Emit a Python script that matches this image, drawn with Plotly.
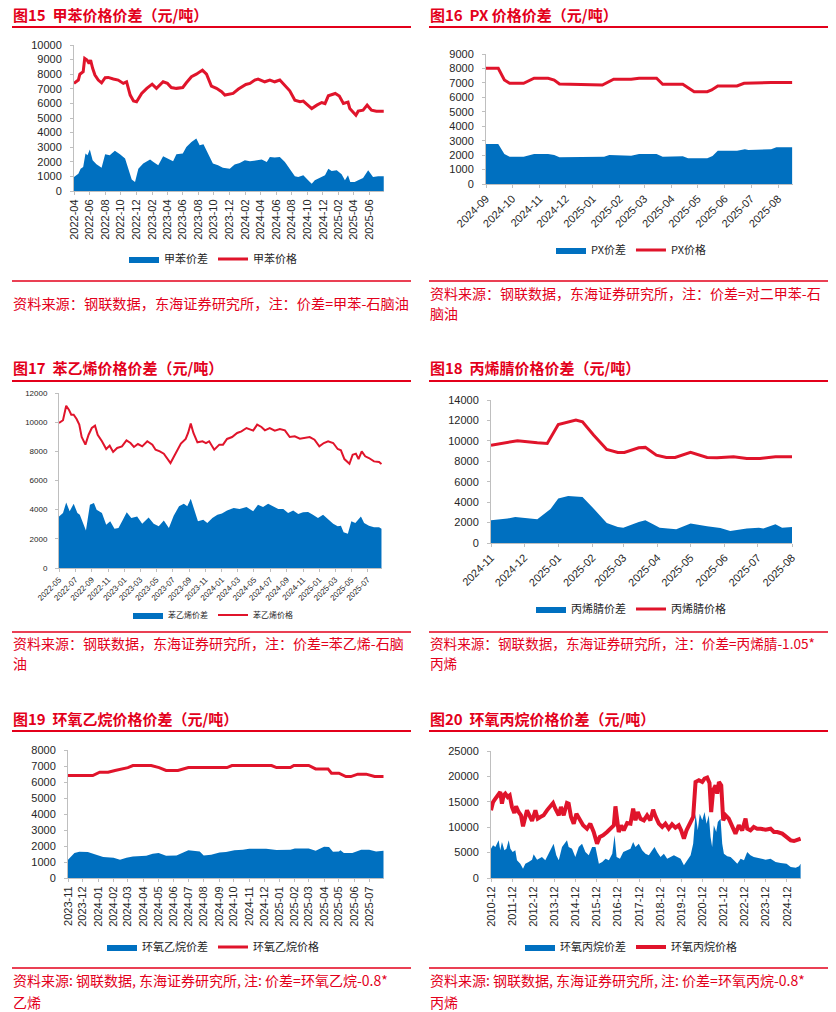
import plotly.graph_objects as go

W, H = 836, 1012
BLUE = "#0070C0"
RED = "#E0142B"
TXT_RED = "#E3001B"
AXIS = "#BFBFBF"
TICK_TXT = "#262626"
FONT = "Liberation Sans, Arial, Noto Sans CJK SC, sans-serif"
CJK = "Noto Sans CJK SC, Liberation Sans, sans-serif"

# ---------------- 图15 甲苯 ----------------
tol_spread_dates = ["2022-04-01", "2022-04-18", "2022-04-27", "2022-05-07", "2022-05-16", "2022-05-24",
                    "2022-06-02", "2022-06-13", "2022-06-28", "2022-07-18", "2022-08-01", "2022-08-19",
                    "2022-09-08", "2022-09-28", "2022-10-18", "2022-10-31", "2022-11-13", "2022-11-26",
                    "2022-12-09", "2022-12-28", "2023-01-24", "2023-02-06", "2023-02-25", "2023-03-16",
                    "2023-04-05", "2023-04-24", "2023-05-07", "2023-06-01", "2023-06-15", "2023-07-05",
                    "2023-07-24", "2023-08-06", "2023-08-21", "2023-09-07", "2023-09-27", "2023-10-17",
                    "2023-11-05", "2023-12-02", "2023-12-21", "2024-01-10", "2024-01-30", "2024-02-19",
                    "2024-03-16", "2024-04-05", "2024-04-25", "2024-05-07", "2024-05-26", "2024-06-15",
                    "2024-07-05", "2024-07-24", "2024-08-13", "2024-08-26", "2024-09-15", "2024-10-04",
                    "2024-10-18", "2024-10-30", "2024-11-19", "2024-12-09", "2024-12-22", "2025-01-04",
                    "2025-01-24", "2025-02-12", "2025-02-25", "2025-03-09", "2025-03-18", "2025-04-04",
                    "2025-04-18", "2025-05-07", "2025-05-27", "2025-06-15", "2025-07-05", "2025-07-27"]
tol_spread = [960, 1190, 1530, 1650, 2560, 2450, 2840, 2100, 1830, 1600, 2520, 2450,
              2750, 2520, 2220, 1420, 780, 620, 1530, 1880, 2150, 1990, 1760, 2380,
              2220, 2040, 2520, 2560, 3020, 3360, 3590, 3140, 3200, 2560, 1880, 1760,
              1600, 1530, 1810, 1920, 2100, 2040, 2100, 2150, 1990, 2330, 2290, 2330,
              1990, 1530, 1010, 960, 1080, 730, 500, 730, 920, 1080, 1530, 1370,
              1420, 1140, 730, 1080, 620, 620, 730, 890, 1420, 960, 1010, 1010]
tol_price_dates = ["2022-04-01", "2022-04-18", "2022-04-24", "2022-05-07", "2022-05-13", "2022-05-22",
                   "2022-05-30", "2022-06-05", "2022-06-13", "2022-06-22", "2022-07-05", "2022-07-18",
                   "2022-08-01", "2022-08-13", "2022-09-02", "2022-09-21", "2022-10-11", "2022-10-24",
                   "2022-11-07", "2022-11-20", "2022-12-02", "2022-12-22", "2023-01-11", "2023-02-01",
                   "2023-02-18", "2023-03-16", "2023-04-02", "2023-04-17", "2023-05-07", "2023-06-01",
                   "2023-06-15", "2023-07-05", "2023-07-24", "2023-08-17", "2023-09-02", "2023-09-21",
                   "2023-10-11", "2023-10-31", "2023-11-13", "2023-12-01", "2023-12-15", "2024-01-05",
                   "2024-02-03", "2024-02-19", "2024-03-09", "2024-03-22", "2024-04-17", "2024-05-07",
                   "2024-05-26", "2024-06-15", "2024-07-05", "2024-07-24", "2024-08-13", "2024-09-02",
                   "2024-09-15", "2024-10-02", "2024-10-18", "2024-11-07", "2024-11-26", "2024-12-09",
                   "2024-12-22", "2025-01-18", "2025-02-03", "2025-02-19", "2025-03-09", "2025-03-16",
                   "2025-03-29", "2025-04-09", "2025-04-18", "2025-05-07", "2025-05-23", "2025-06-09",
                   "2025-06-28", "2025-07-27"]
tol_price = [7370, 7600, 8000, 8170, 9080, 8970, 8740, 8970, 8400, 7940, 7600, 7410,
             7760, 7780, 7670, 7600, 7370, 7480, 6570, 6160, 6110, 6680, 7030, 7320,
             7030, 7480, 7370, 7090, 7030, 7090, 7410, 7830, 8000, 8280, 8000, 7190,
             7030, 6800, 6570, 6610, 6680, 6980, 7300, 7370, 7600, 7670, 7480, 7600,
             7480, 7600, 7250, 6860, 6220, 6110, 6160, 5880, 5650, 5880, 6060, 5990,
             6520, 6680, 6500, 5990, 6090, 5650, 5420, 5190, 5470, 5540, 5880, 5540,
             5470, 5470]

# ---------------- 图16 PX ----------------
px_spread_dates = ["2024-09-01", "2024-09-15", "2024-09-22", "2024-09-28", "2024-10-14", "2024-10-26",
                   "2024-11-11", "2024-11-18", "2024-11-24", "2024-12-15", "2024-12-30", "2025-01-14",
                   "2025-01-20", "2025-02-14", "2025-02-23", "2025-03-15", "2025-03-22", "2025-04-14",
                   "2025-04-20", "2025-05-12", "2025-05-18", "2025-05-24", "2025-06-15", "2025-06-24",
                   "2025-06-28", "2025-07-24", "2025-07-30", "2025-08-17"]
px_spread = [2770, 2770, 2080, 1890, 1890, 2080, 2080, 2010, 1850, 1850, 1890, 1890,
             2010, 1960, 2080, 2080, 1890, 1920, 1780, 1780, 1940, 2310, 2310, 2400,
             2350, 2400, 2540, 2540]
px_price_dates = ["2024-09-01", "2024-09-15", "2024-09-22", "2024-09-28", "2024-10-14", "2024-10-26",
                  "2024-11-11", "2024-11-18", "2024-11-24", "2024-12-15", "2024-12-30", "2025-01-12",
                  "2025-01-25", "2025-02-14", "2025-02-23", "2025-03-15", "2025-03-22", "2025-04-14",
                  "2025-04-27", "2025-05-12", "2025-05-17", "2025-05-24", "2025-06-15", "2025-06-23",
                  "2025-07-24", "2025-08-17"]
px_price = [8010, 8010, 7200, 6970, 6970, 7320, 7320, 7200, 6920, 6900, 6850, 6850,
            7250, 7250, 7320, 7320, 6900, 6900, 6390, 6390, 6510, 6790, 6790, 6970,
            7020, 7020]

# ---------------- 图17 苯乙烯 ----------------
sty_spread_dates = ["2022-05-01", "2022-05-16", "2022-05-28", "2022-06-10", "2022-06-25", "2022-07-09",
                    "2022-07-18", "2022-07-30", "2022-08-10", "2022-08-25", "2022-09-09", "2022-09-19",
                    "2022-10-09", "2022-10-25", "2022-11-09", "2022-11-25", "2022-12-10", "2022-12-26",
                    "2023-01-10", "2023-01-27", "2023-02-18", "2023-03-09", "2023-04-02", "2023-04-21",
                    "2023-05-10", "2023-05-29", "2023-06-17", "2023-07-05", "2023-07-25", "2023-08-12",
                    "2023-08-25", "2023-09-07", "2023-09-19", "2023-10-04", "2023-10-24", "2023-11-08",
                    "2023-11-27", "2023-12-16", "2024-01-02", "2024-01-21", "2024-02-15", "2024-03-08",
                    "2024-04-03", "2024-04-28", "2024-05-16", "2024-06-04", "2024-06-23", "2024-07-12",
                    "2024-07-31", "2024-08-19", "2024-09-06", "2024-09-25", "2024-10-14", "2024-11-01",
                    "2024-11-20", "2024-12-08", "2024-12-27", "2025-01-15", "2025-02-03", "2025-02-22",
                    "2025-03-11", "2025-03-23", "2025-04-02", "2025-04-18", "2025-05-01", "2025-05-16",
                    "2025-06-06", "2025-06-18", "2025-07-06", "2025-07-25", "2025-08-13", "2025-08-22"]
sty_spread = [3540, 3770, 4500, 3890, 4410, 3770, 3660, 3090, 2580, 4340, 4460, 4000,
              3770, 2970, 3200, 2700, 2740, 3300, 3820, 3430, 3540, 3040, 3470, 3040,
              2860, 3250, 2740, 3590, 4230, 4410, 4230, 4750, 4110, 3200, 3310, 3090,
              3430, 3660, 3730, 3950, 4110, 4050, 4180, 3890, 4340, 4180, 4410, 4230,
              4050, 4050, 3770, 3950, 3700, 3820, 3840, 3660, 3430, 3660, 3360, 3040,
              2860, 2900, 2450, 2350, 3200, 3090, 3540, 3090, 2900, 2790, 2790, 2700]
sty_price_dates = ["2022-05-01", "2022-05-16", "2022-05-28", "2022-06-07", "2022-06-16", "2022-06-25",
                   "2022-07-06", "2022-07-16", "2022-07-25", "2022-08-08", "2022-08-20", "2022-09-01",
                   "2022-09-13", "2022-09-23", "2022-10-09", "2022-10-25", "2022-11-07", "2022-11-20",
                   "2022-12-05", "2022-12-23", "2023-01-09", "2023-01-24", "2023-02-06", "2023-02-21",
                   "2023-03-09", "2023-03-28", "2023-04-16", "2023-04-28", "2023-05-14", "2023-05-29",
                   "2023-06-23", "2023-07-13", "2023-08-01", "2023-08-19", "2023-08-28", "2023-09-07",
                   "2023-09-17", "2023-10-02", "2023-10-21", "2023-11-03", "2023-11-15", "2023-12-04",
                   "2023-12-23", "2024-01-06", "2024-01-21", "2024-02-09", "2024-02-28", "2024-03-15",
                   "2024-04-03", "2024-04-28", "2024-05-13", "2024-05-29", "2024-06-11", "2024-06-29",
                   "2024-07-18", "2024-08-06", "2024-08-25", "2024-09-12", "2024-10-01", "2024-10-20",
                   "2024-11-07", "2024-11-26", "2024-12-14", "2025-01-01", "2025-01-18", "2025-02-03",
                   "2025-02-22", "2025-03-11", "2025-03-23", "2025-04-05", "2025-04-24", "2025-05-06",
                   "2025-05-18", "2025-05-28", "2025-06-09", "2025-06-22", "2025-07-06", "2025-07-25",
                   "2025-08-13", "2025-08-22"]
sty_price = [9940, 10130, 11130, 10860, 10510, 10510, 10220, 9830, 8980, 8460,
             9140, 9600, 9760, 9140, 8690, 8160, 8390, 7960, 8230, 8340,
             8750, 8570, 8300, 8500, 8340, 8690, 8460, 8110, 8000, 7840,
             7200, 7890, 8530, 8850, 9260, 9900, 9260, 8620, 8690, 8570,
             8690, 8110, 8460, 8460, 8850, 8980, 9260, 9370, 9600, 9420,
             9830, 9670, 9440, 9600, 9420, 9530, 9440, 8980, 9030, 8870,
             8910, 8980, 8800, 8340, 8570, 8690, 8570, 8160, 8070, 7470,
             7150, 7770, 7840, 7470, 8000, 7660, 7540, 7310, 7270, 7130]

# ---------------- 图18 丙烯腈 ----------------
acn_spread_dates = ["2024-11-01", "2024-11-16", "2024-11-23", "2024-12-01", "2024-12-13", "2024-12-25",
                    "2025-01-01", "2025-01-10", "2025-01-23", "2025-02-02", "2025-02-14", "2025-02-24",
                    "2025-03-01", "2025-03-15", "2025-03-21", "2025-03-28", "2025-04-03", "2025-04-18",
                    "2025-05-01", "2025-05-16", "2025-05-28", "2025-06-06", "2025-06-21", "2025-07-02",
                    "2025-07-06", "2025-07-17", "2025-07-23", "2025-08-01"]
acn_spread = [2220, 2390, 2550, 2450, 2320, 3340, 4350, 4610, 4510, 3370, 1960, 1570,
              1500, 2060, 2220, 1830, 1500, 1340, 1900, 1640, 1470, 1180, 1410, 1500,
              1410, 1830, 1500, 1570]
acn_price_dates = ["2024-11-01", "2024-11-22", "2024-11-25", "2024-12-13", "2024-12-22", "2025-01-01",
                   "2025-01-11", "2025-01-17", "2025-01-23", "2025-02-02", "2025-02-14", "2025-02-24",
                   "2025-03-02", "2025-03-15", "2025-03-21", "2025-03-31", "2025-04-09", "2025-04-17",
                   "2025-05-01", "2025-05-16", "2025-05-25", "2025-06-09", "2025-06-21", "2025-07-03",
                   "2025-07-17", "2025-08-01"]
acn_price = [9580, 9910, 10010, 9810, 9750, 11600, 11870, 12040, 11870, 10570, 9160, 8870,
             8870, 9320, 9360, 8600, 8370, 8370, 8870, 8370, 8340, 8440, 8280, 8280,
             8440, 8440]

# ---------------- 图19 环氧乙烷 ----------------
eo_spread_dates = ["2023-11-01", "2023-11-14", "2023-11-24", "2023-12-11", "2023-12-28", "2024-01-11",
                   "2024-02-01", "2024-02-14", "2024-02-27", "2024-03-11", "2024-04-07", "2024-04-20",
                   "2024-05-02", "2024-05-17", "2024-06-07", "2024-07-01", "2024-07-24", "2024-08-01",
                   "2024-08-16", "2024-09-02", "2024-09-15", "2024-10-02", "2024-10-19", "2024-11-01",
                   "2024-12-05", "2024-12-26", "2025-01-23", "2025-02-01", "2025-03-01", "2025-03-15",
                   "2025-04-01", "2025-04-11", "2025-04-19", "2025-05-01", "2025-05-04", "2025-05-11",
                   "2025-05-28", "2025-06-15", "2025-07-01", "2025-07-15", "2025-07-30"]
eo_spread = [1140, 1560, 1640, 1620, 1460, 1310, 1270, 1140, 1270, 1350, 1390, 1520,
             1560, 1390, 1410, 1730, 1660, 1410, 1460, 1600, 1620, 1730, 1770, 1830,
             1830, 1750, 1770, 1850, 1850, 1700, 1950, 1930, 1640, 1660, 1730, 1560,
             1560, 1770, 1770, 1660, 1700]
eo_price_dates = ["2023-11-01", "2023-12-21", "2024-01-04", "2024-01-21", "2024-02-04", "2024-02-17",
                  "2024-03-01", "2024-03-11", "2024-04-17", "2024-05-03", "2024-05-17", "2024-06-10",
                  "2024-07-01", "2024-09-17", "2024-09-27", "2024-12-16", "2024-12-26", "2025-01-23",
                  "2025-01-30", "2025-03-01", "2025-03-15", "2025-04-09", "2025-04-16", "2025-05-01",
                  "2025-05-15", "2025-05-25", "2025-06-08", "2025-06-25", "2025-07-12", "2025-07-30"]
eo_price = [6400, 6400, 6610, 6610, 6720, 6820, 6900, 7030, 7030, 6900, 6720, 6720,
            6900, 6900, 7030, 7030, 6900, 6900, 7030, 7030, 6820, 6820, 6550, 6550,
            6340, 6340, 6490, 6490, 6340, 6340]

# ---------------- 图20 环氧丙烷 ----------------
po_spread_dates = ["2010-12-01", "2011-01-05", "2011-02-15", "2011-03-15", "2011-04-12", "2011-05-10",
                   "2011-06-08", "2011-07-20", "2011-08-24", "2011-10-03", "2011-11-01", "2011-12-10",
                   "2012-01-25", "2012-02-23", "2012-04-20", "2012-06-06", "2012-07-16", "2012-09-11",
                   "2012-11-09", "2012-12-07", "2013-02-04", "2013-04-29", "2013-06-26", "2013-08-22",
                   "2013-10-19", "2013-11-17", "2014-01-02", "2014-02-14", "2014-04-11", "2014-07-06",
                   "2014-08-04", "2014-10-01", "2014-11-27", "2015-01-25", "2015-03-23", "2015-05-20",
                   "2015-07-17", "2015-09-13", "2015-11-10", "2016-01-08", "2016-03-05", "2016-05-02",
                   "2016-06-29", "2016-08-26", "2016-10-05", "2016-11-09", "2017-01-06", "2017-03-04",
                   "2017-05-10", "2017-07-07", "2017-08-22", "2017-10-01", "2017-11-28", "2018-01-25",
                   "2018-03-23", "2018-05-20", "2018-07-17", "2018-08-26", "2018-10-11", "2018-12-08",
                   "2019-02-04", "2019-04-02", "2019-05-30", "2019-07-27", "2019-09-23", "2019-11-20",
                   "2020-01-16", "2020-03-14", "2020-05-11", "2020-06-24", "2020-08-04", "2020-09-12",
                   "2020-10-16", "2020-11-28", "2021-01-07", "2021-02-10", "2021-03-21", "2021-04-20",
                   "2021-05-18", "2021-06-16", "2021-07-27", "2021-08-24", "2021-10-10", "2021-11-08",
                   "2021-12-07", "2022-02-03", "2022-04-01", "2022-05-29", "2022-07-26", "2022-09-22",
                   "2022-11-19", "2023-01-14", "2023-03-11", "2023-05-07", "2023-07-04", "2023-09-01",
                   "2023-11-27", "2024-02-21", "2024-05-18", "2024-08-13", "2024-11-24", "2025-02-03",
                   "2025-05-01", "2025-06-27", "2025-07-24"]
po_spread = [5770, 6430, 6100, 6760, 7410, 5450, 7090, 5450, 5770, 7410, 5770, 5120,
             5450, 3480, 2820, 1840, 2820, 3150, 3610, 4660, 3610, 4130, 3480, 4790,
             6100, 6760, 4460, 3480, 6100, 7410, 6100, 5770, 4130, 6100, 6760, 5120,
             4460, 6100, 6100, 2820, 3150, 3810, 3480, 4790, 8400, 4130, 3810, 5120,
             5450, 5770, 7090, 6100, 6760, 5450, 4790, 4460, 5450, 6100, 5120, 4130,
             4790, 3810, 4130, 4460, 4130, 3810, 2490, 3480, 4460, 6760, 12660, 9380,
             12660, 11350, 12990, 10700, 12340, 8070, 6100, 10370, 9060, 11020, 11680, 6760,
             4790, 4270, 4130, 3480, 2820, 3810, 3480, 5120, 4460, 4130, 4000, 3810,
             3610, 3810, 3150, 2950, 2820, 2170, 2030, 2300, 2820]
po_price_dates = ["2010-12-01", "2011-01-05", "2011-02-15", "2011-04-12", "2011-05-10", "2011-06-08",
                  "2011-07-07", "2011-08-05", "2011-09-15", "2011-10-20", "2011-11-28", "2012-01-08",
                  "2012-02-07", "2012-03-22", "2012-05-02", "2012-06-06", "2012-07-16", "2012-08-14",
                  "2012-09-24", "2012-11-09", "2013-01-06", "2013-02-15", "2013-04-01", "2013-05-28",
                  "2013-07-25", "2013-09-22", "2013-11-07", "2013-12-17", "2014-02-14", "2014-03-24",
                  "2014-05-10", "2014-07-06", "2014-08-04", "2014-09-14", "2014-10-30", "2014-12-16",
                  "2015-02-12", "2015-04-10", "2015-06-16", "2015-08-13", "2015-10-10", "2015-12-07",
                  "2016-01-23", "2016-03-20", "2016-05-28", "2016-07-25", "2016-09-22", "2016-10-20",
                  "2016-11-19", "2016-12-16", "2017-01-27", "2017-03-13", "2017-05-10", "2017-07-07",
                  "2017-08-22", "2017-10-01", "2017-11-10", "2017-12-27", "2018-02-23", "2018-04-20",
                  "2018-06-16", "2018-08-02", "2018-09-12", "2018-11-09", "2019-01-06", "2019-03-02",
                  "2019-04-29", "2019-06-25", "2019-08-22", "2019-10-19", "2019-11-29", "2020-01-16",
                  "2020-03-01", "2020-04-27", "2020-06-24", "2020-08-04", "2020-10-01", "2020-11-28",
                  "2021-01-07", "2021-02-21", "2021-04-02", "2021-05-01", "2021-06-04", "2021-07-16",
                  "2021-08-13", "2021-09-12", "2021-10-22", "2021-11-25", "2022-01-04", "2022-03-01",
                  "2022-04-28", "2022-06-25", "2022-08-22", "2022-10-19", "2022-12-16", "2023-01-14",
                  "2023-03-11", "2023-05-07", "2023-07-04", "2023-09-01", "2023-11-27", "2024-02-21",
                  "2024-04-19", "2024-06-16", "2024-09-10", "2024-11-24", "2025-02-03", "2025-04-01",
                  "2025-05-28", "2025-07-24"]
po_price = [13320, 14960, 15620, 16400, 16930, 14630, 16270, 16600, 15940, 16270, 13980, 12800,
            14110, 12990, 12340, 10170, 11680, 13320, 12340, 11220, 13320, 11680, 12010, 12340,
            13320, 14110, 14760, 13650, 12340, 13980, 12340, 14760, 14630, 12010, 10700, 12660,
            11350, 10370, 9710, 10700, 9060, 6760, 8070, 8400, 9060, 9710, 10370, 14110,
            11350, 9060, 10370, 9380, 10830, 10700, 13650, 11350, 12990, 11680, 11350, 12340,
            11350, 13450, 12140, 10700, 10040, 10700, 9710, 10560, 9910, 10370, 9380, 7740,
            9380, 10700, 12010, 18900, 19230, 18900, 19550, 19750, 18700, 12990, 17260, 18240,
            16600, 18900, 18240, 11350, 12340, 11680, 10040, 8730, 10370, 9380, 11680, 9710,
            9380, 10040, 9710, 9710, 9510, 9710, 9060, 9060, 8730, 8070, 7410, 7280,
            7550, 7740]

panels = [
    dict(title="图15  甲苯价格价差（元/吨）", names=("甲苯价差", "甲苯价格"),
         spread=(tol_spread_dates, tol_spread), price=(tol_price_dates, tol_price),
         box=(74, 45, 384, 191), xr=["2022-04-01", "2025-07-28"], tick0="2022-04-01", dtick="M2",
         ymax=10000, ydt=1000, angle=-90, tfs=11, lw=3, leg=(213, 259), lfs=11,
         col=0, ttl_y=14, line_y=27, src_line_y=281, sfs=14.2,
         src=[("资料来源：钢联数据，东海证券研究所，注：价差=甲苯-石脑油", 303)]),
    dict(title="图16  PX 价格价差（元/吨）", names=("PX价差", "PX价格"),
         spread=(px_spread_dates, px_spread), price=(px_price_dates, px_price),
         box=(486, 54, 793, 184), xr=["2024-09-01", "2025-08-18"], tick0="2024-09-01", dtick="M1",
         ymax=9000, ydt=1000, angle=-45, tfs=11, lw=3, leg=(631, 250), lfs=11,
         col=1, ttl_y=14, line_y=27, src_line_y=281, sfs=14,
         src=[("资料来源：钢联数据，东海证券研究所，注：价差=对二甲苯-石", 293), ("脑油", 313)]),
    dict(title="图17  苯乙烯价格价差（元/吨）", names=("苯乙烯价差", "苯乙烯价格"),
         spread=(sty_spread_dates, sty_spread), price=(sty_price_dates, sty_price),
         box=(59, 393, 382, 568), xr=["2022-05-01", "2025-08-24"], tick0="2022-05-01", dtick="M2",
         ymax=12000, ydt=2000, angle=-45, tfs=8, lw=2, leg=(213, 615), lfs=8,
         col=0, ttl_y=367, line_y=381, src_line_y=632, sfs=14,
         src=[("资料来源：钢联数据，东海证券研究所，注：价差=苯乙烯-石脑", 643), ("油", 663)]),
    dict(title="图18  丙烯腈价格价差（元/吨）", names=("丙烯腈价差", "丙烯腈价格"),
         spread=(acn_spread_dates, acn_spread), price=(acn_price_dates, acn_price),
         box=(491, 400, 792, 543), xr=["2024-11-01", "2025-08-01"], tick0="2024-11-01", dtick="M1",
         ymax=14000, ydt=2000, angle=-45, tfs=11, lw=3, leg=(631, 609), lfs=11,
         col=1, ttl_y=367, line_y=381, src_line_y=632, sfs=13.6,
         src=[("资料来源：钢联数据，东海证券研究所，注：价差=丙烯腈-1.05*", 643), ("丙烯", 663)]),
    dict(title="图19  环氧乙烷价格价差（元/吨）", names=("环氧乙烷价差", "环氧乙烷价格"),
         spread=(eo_spread_dates, eo_spread), price=(eo_price_dates, eo_price),
         box=(68, 750, 384, 878), xr=["2023-11-01", "2025-07-31"], tick0="2023-11-01", dtick="M1",
         ymax=8000, ydt=1000, angle=-90, tfs=11, lw=3, leg=(213, 947), lfs=11,
         col=0, ttl_y=718, line_y=731, src_line_y=968, sfs=14,
         src=[("资料来源: 钢联数据, 东海证券研究所, 注: 价差=环氧乙烷-0.8*", 980), ("乙烯", 1002)]),
    dict(title="图20  环氧丙烷价格价差（元/吨）", names=("环氧丙烷价差", "环氧丙烷价格"),
         spread=(po_spread_dates, po_spread), price=(po_price_dates, po_price),
         box=(491, 751, 801, 878), xr=["2010-12-01", "2025-07-31"], tick0="2010-12-01", dtick="M12",
         ymax=25000, ydt=5000, angle=-90, tfs=11, lw=4, leg=(631, 947), lfs=11,
         col=1, ttl_y=718, line_y=731, src_line_y=968, sfs=14,
         src=[("资料来源: 钢联数据, 东海证券研究所, 注: 价差=环氧丙烷-0.8*", 980), ("丙烯", 1002)]),
]


def fx(x):
    return x / W


def fy(y):
    return 1 - y / H


fig = go.Figure()
shapes = []
annotations = []
layout = {}

for i, p in enumerate(panels):
    s = "" if i == 0 else str(i + 1)
    x0, y0, x1, y1 = p["box"]
    fig.add_trace(go.Scatter(
        x=p["spread"][0], y=p["spread"][1], name=p["names"][0],
        mode="lines", fill="tozeroy", fillcolor=BLUE, line=dict(color=BLUE, width=0),
        xaxis="x" + s, yaxis="y" + s, legend="legend" + s, hoverinfo="skip",
    ))
    fig.add_trace(go.Scatter(
        x=p["price"][0], y=p["price"][1], name=p["names"][1],
        mode="lines", line=dict(color=RED, width=p["lw"]),
        xaxis="x" + s, yaxis="y" + s, legend="legend" + s, hoverinfo="skip",
    ))
    layout["xaxis" + s] = dict(
        domain=[fx(x0), fx(x1)], anchor="y" + s, type="date", range=p["xr"],
        tick0=p["tick0"], dtick=p["dtick"], tickformat="%Y-%m", tickangle=p["angle"],
        tickfont=dict(size=p["tfs"], color=TICK_TXT, family=FONT), automargin=False,
        showline=True, linecolor=AXIS, linewidth=1, ticks="outside", ticklen=3,
        tickcolor=AXIS, showgrid=False, zeroline=False,
    )
    layout["yaxis" + s] = dict(
        domain=[fy(y1), fy(y0)], anchor="x" + s, range=[0, p["ymax"]], dtick=p["ydt"],
        tickformat="d", tickfont=dict(size=p["tfs"], color=TICK_TXT, family=FONT), automargin=False,
        showline=True, linecolor=AXIS, linewidth=1, ticks="outside", ticklen=3,
        tickcolor=AXIS, showgrid=False, zeroline=False, ticklabelstandoff=6,
    )
    layout["legend" + s] = dict(
        x=fx(p["leg"][0]), y=fy(p["leg"][1]), xanchor="center", yanchor="middle",
        orientation="h", font=dict(size=p["lfs"], color=TICK_TXT, family=CJK),
        bgcolor="rgba(0,0,0,0)", itemwidth=30, traceorder="normal",
    )

    left = 12 if p["col"] == 0 else 429
    right = 411 if p["col"] == 0 else 828
    annotations.append(dict(
        text="<b>" + p["title"] + "</b>", x=fx(left), y=fy(p["ttl_y"]), xref="paper", yref="paper",
        xanchor="left", yanchor="middle", showarrow=False, borderpad=0,
        font=dict(size=15, color=TXT_RED, family=CJK),
    ))
    shapes.append(dict(type="line", xref="paper", yref="paper", x0=fx(left), x1=fx(right),
                       y0=fy(p["line_y"]), y1=fy(p["line_y"]), line=dict(color=TXT_RED, width=2)))
    shapes.append(dict(type="line", xref="paper", yref="paper", x0=fx(left), x1=fx(right),
                       y0=fy(p["src_line_y"]), y1=fy(p["src_line_y"]), line=dict(color=TXT_RED, width=1.5)))
    for txt, ty in p["src"]:
        annotations.append(dict(
            text=txt, x=fx(left), y=fy(ty), xref="paper", yref="paper",
            xanchor="left", yanchor="middle", showarrow=False, borderpad=0,
            font=dict(size=p["sfs"], color=TXT_RED, family=CJK),
        ))

fig.update_layout(
    width=W, height=H, autosize=False,
    margin=dict(l=0, r=0, t=0, b=0, autoexpand=False),
    paper_bgcolor="white", plot_bgcolor="white",
    font=dict(family=FONT, color=TICK_TXT),
    showlegend=True,
    shapes=shapes, annotations=annotations,
    **layout,
)

# the page body has a default 8px margin; drop it so the figure fills the window
fig.write_html("out.html", config={"displayModeBar": False},
               post_script="document.body.style.margin = '0';")
